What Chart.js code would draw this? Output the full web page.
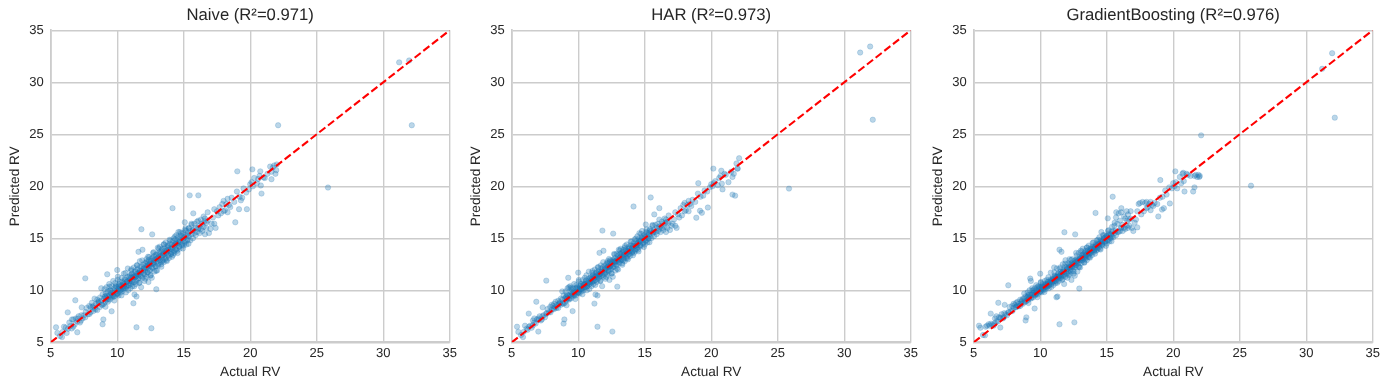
<!DOCTYPE html>
<html>
<head>
<meta charset="utf-8">
<title>Actual vs Predicted RV</title>
<script src="https://cdn.jsdelivr.net/npm/chart.js@4"></script>
<style>
  html, body { margin: 0; padding: 0; background: #fff; }
  body { position: relative; width: 1389px; height: 390px; overflow: hidden; }
  .painel { position: absolute; top: 0; width: 465px; height: 390px; }
</style>
</head>
<body>
<div class="painel" style="left:0px"><canvas id="chart0"></canvas></div>
<div class="painel" style="left:461.3px"><canvas id="chart1"></canvas></div>
<div class="painel" style="left:922.8px"><canvas id="chart2"></canvas></div>
<script>
var modelNames = ["Naive (R²=0.971)", "HAR (R²=0.973)", "GradientBoosting (R²=0.976)"];
var axisTicks = [5, 10, 15, 20, 25, 30, 35];
var identityLine = [5, 35];

// values, same row layout in all four lists
var actualRv = [
  5.40, 5.85, 6.28, 7.00, 6.85, 7.60, 7.33, 8.90, 8.96, 9.58,
  9.25, 10.0, 11.45, 12.57, 12.94, 11.22, 11.82, 12.63, 14.16, 15.45,
  16.10, 15.72, 15.08, 18.88, 19.16, 19.75, 20.85, 22.10, 25.85, 31.20,
  31.95, 32.15, 19.03, 20.16, 20.76, 21.96, 21.60, 20.80, 19.30, 21.00,
  5.5, 5.7, 5.9, 6.0, 6.2, 6.3, 6.4, 6.5, 6.6, 6.7,
  6.7, 6.8, 6.9, 7.0, 7.1, 7.2, 7.3, 7.4, 7.5, 7.6,
  7.7, 7.8, 7.9, 8.0, 8.0, 8.1, 8.2, 8.2, 8.3, 8.3,
  8.4, 8.5, 8.5, 8.6, 8.7, 8.7, 8.8, 8.8, 8.9, 8.9,
  9.0, 9.0, 9.05, 9.1, 9.1, 9.15, 9.2, 9.2, 9.25, 9.3,
  9.3, 9.35, 9.4, 9.4, 9.45, 9.5, 9.5, 9.55, 9.6, 9.6,
  9.65, 9.7, 9.7, 9.75, 9.8, 9.8, 9.85, 9.9, 9.9, 9.95,
  10.0, 10.0, 10.05, 10.1, 10.1, 10.15, 10.2, 10.2, 10.25, 10.3,
  10.3, 10.35, 10.4, 10.4, 10.45, 10.5, 10.5, 10.55, 10.6, 10.6,
  10.65, 10.7, 10.7, 10.8, 10.8, 10.85, 10.9, 10.9, 11.0, 11.0,
  11.05, 11.1, 11.1, 11.15, 11.2, 11.2, 11.25, 11.3, 11.3, 11.35,
  11.4, 11.4, 11.45, 11.5, 11.5, 11.55, 11.6, 11.6, 11.65, 11.7,
  11.7, 11.75, 11.8, 11.8, 11.85, 11.9, 11.9, 12.0, 12.0, 12.05,
  12.1, 12.1, 12.15, 12.2, 12.2, 12.25, 12.3, 12.3, 12.35, 12.4,
  12.4, 12.45, 12.5, 12.5, 12.55, 12.6, 12.6, 12.65, 12.7, 12.7,
  12.75, 12.8, 12.8, 12.9, 12.9, 12.95, 13.0, 13.0, 13.05, 13.1,
  13.1, 13.15, 13.2, 13.2, 13.25, 13.3, 13.3, 13.35, 13.4, 13.4,
  13.45, 13.5, 13.5, 13.55, 13.6, 13.6, 13.65, 13.7, 13.7, 13.8,
  13.8, 13.85, 13.9, 13.9, 14.0, 14.0, 14.05, 14.1, 14.1, 14.2,
  14.2, 14.25, 14.3, 14.3, 14.4, 14.4, 14.45, 14.5, 14.5, 14.6,
  14.6, 14.65, 14.7, 14.7, 14.8, 14.8, 14.9, 14.9, 15.0, 15.0,
  15.1, 15.1, 15.2, 15.2, 15.3, 15.3, 15.4, 15.4, 15.5, 15.5,
  15.6, 15.6, 15.7, 15.7, 15.8, 15.8, 15.9, 15.9, 16.0, 16.0,
  16.1, 16.1, 16.2, 16.2, 16.3, 16.3, 16.4, 16.4, 16.5, 16.5,
  16.55, 16.6, 16.6, 16.7, 16.7, 16.8, 16.8, 16.9, 17.0, 17.1,
  17.2, 17.3, 17.3, 17.4, 17.5, 17.6, 17.7, 17.8, 17.9, 18.0,
  18.0, 18.1, 18.2, 18.3, 18.3, 18.4, 18.5, 18.6, 18.8, 19.0,
  19.2, 19.4, 19.5, 19.7, 19.9, 20.0, 20.1, 20.2, 20.3, 20.5,
  20.6, 20.7, 21.1, 21.3, 21.5, 21.6, 21.7, 21.8, 21.9, 22.0,
  8.62, 9.08, 9.33, 9.47, 9.72, 9.88, 10.03, 10.13, 10.27, 10.38,
  10.48, 10.57, 10.68, 10.77, 10.88, 10.96, 11.03, 11.12, 11.27, 11.36,
  11.44, 11.52, 11.63, 11.73, 11.82, 11.96, 12.07, 12.18, 12.27, 12.38,
  12.47, 12.58, 12.66, 12.77, 12.86, 12.97, 13.08, 13.17, 13.27, 13.36,
  13.44, 13.57, 13.66, 13.78, 13.87, 13.96, 14.08, 14.17, 14.28, 14.37,
  14.47, 14.56, 14.68, 14.77, 14.86, 14.97, 15.07, 15.18, 15.27, 15.38,
  9.16, 9.62, 10.08, 10.44, 10.93, 11.33, 11.67, 12.03, 12.33, 12.72,
  13.03, 13.41, 13.72, 14.06, 14.33, 14.62, 15.03, 15.33, 15.67, 16.07,
  6.13, 6.58, 7.03, 7.27, 7.63, 7.92, 8.14, 8.37, 8.58, 8.83,
  9.12, 9.42, 9.78, 10.04, 10.32, 10.62, 10.84, 11.07, 11.28, 11.48,
  11.68, 11.88, 12.12, 12.32, 12.52, 12.74, 12.92, 13.12, 13.32, 13.52,
  13.74, 13.94, 14.12, 14.34, 14.54, 14.72, 14.94, 15.14, 15.36, 15.58,
  10.22, 10.52, 10.74, 10.99, 11.21, 11.39, 11.58, 11.78, 12.01, 12.23,
  12.43, 12.62, 12.83, 13.13, 13.46, 13.68, 13.83, 14.15, 14.42, 14.74
];

var naivePred = [
  6.44, 5.50, 7.88, 5.96, 9.04, 11.15, 8.36, 6.73, 7.20, 7.98,
  11.54, 11.95, 6.44, 6.35, 10.10, 8.75, 15.87, 15.38, 17.90, 19.13,
  19.13, 17.40, 16.54, 16.54, 17.80, 17.80, 19.30, 25.87, 19.88, 31.92,
  32.10, 25.87, 21.44, 21.63, 21.44, 21.55, 20.68, 20.08, 18.65, 20.85,
  5.9, 5.6, 6.0, 6.5, 5.9, 6.3, 6.9, 6.6, 7.2, 6.5,
  7.2, 6.7, 7.3, 7.0, 7.5, 6.9, 7.6, 7.3, 7.6, 7.4,
  8.3, 7.7, 8.5, 7.9, 8.4, 8.8, 8.0, 8.5, 9.2, 8.3,
  8.7, 8.1, 9.1, 8.8, 9.3, 8.4, 10.2, 9.0, 8.6, 9.6,
  9.2, 8.7, 10.1, 9.4, 8.9, 9.7, 10.3, 9.1, 9.5, 9.9,
  8.9, 9.4, 10.6, 9.5, 9.1, 10.0, 9.4, 9.7, 10.4, 9.3,
  9.9, 9.5, 10.9, 9.8, 10.2, 9.4, 10.7, 9.9, 10.4, 9.6,
  10.3, 9.7, 11.3, 10.1, 9.5, 10.4, 10.8, 10.0, 9.8, 10.5,
  10.1, 11.2, 10.5, 9.9, 10.7, 10.3, 11.6, 10.6, 10.2, 11.0,
  9.8, 10.8, 10.4, 12.1, 10.9, 10.5, 11.3, 10.7, 10.2, 11.2,
  11.9, 10.9, 11.5, 10.4, 11.3, 10.8, 12.2, 9.6, 11.4, 11.8,
  10.6, 11.3, 9.4, 11.6, 12.4, 11.1, 13.7, 11.5, 10.7, 11.9,
  12.8, 11.4, 10.3, 11.9, 12.3, 11.2, 13.9, 12.1, 11.6, 10.9,
  12.6, 11.8, 12.2, 13.0, 11.3, 12.4, 11.7, 12.7, 10.8, 12.3,
  13.2, 11.9, 12.6, 11.4, 12.8, 12.2, 11.2, 13.1, 12.5, 13.6,
  12.9, 11.8, 12.7, 13.4, 12.3, 13.0, 11.9, 12.8, 14.1, 13.2,
  12.4, 13.5, 12.9, 14.2, 13.3, 12.5, 13.7, 13.2, 12.8, 14.0,
  13.4, 12.7, 14.4, 13.5, 13.0, 13.8, 14.6, 13.6, 12.9, 14.1,
  13.4, 14.3, 13.8, 13.1, 14.0, 14.8, 13.5, 14.4, 13.7, 14.2,
  13.4, 15.0, 14.3, 13.6, 14.6, 13.9, 15.3, 14.5, 13.8, 14.7,
  15.6, 14.2, 14.8, 14.0, 15.0, 15.5, 14.5, 15.2, 15.0, 14.3,
  15.8, 14.7, 15.3, 14.4, 15.5, 14.9, 16.0, 15.2, 15.7, 14.8,
  16.3, 15.4, 15.8, 15.0, 16.4, 15.5, 16.0, 15.3, 16.6, 15.6,
  15.9, 16.7, 16.2, 15.5, 16.8, 15.9, 16.4, 15.7, 17.1, 16.1,
  16.6, 15.4, 16.9, 16.0, 16.5, 17.5, 16.7, 15.5, 15.9, 16.4,
  17.0, 17.8, 16.4, 16.0, 17.6, 17.2, 18.0, 17.4, 18.3, 17.6,
  18.6, 17.7, 18.3, 18.8, 17.5, 18.2, 18.0, 18.9, 18.5, 19.5,
  19.0, 18.9, 19.8, 19.4, 19.7, 20.2, 20.4, 20.0, 20.8, 20.3,
  20.7, 21.0, 20.8, 21.2, 21.9, 21.4, 21.8, 22.0, 21.2, 22.1,
  8.95, 9.42, 9.13, 9.98, 9.41, 10.36, 9.66, 10.58, 10.02, 10.85,
  10.16, 11.07, 10.31, 11.28, 10.47, 11.44, 10.63, 11.62, 10.78, 11.85,
  10.92, 12.03, 11.16, 12.26, 11.35, 12.47, 11.52, 12.73, 11.74, 12.92,
  11.96, 13.07, 12.14, 13.29, 12.33, 13.47, 12.54, 13.68, 12.72, 13.88,
  12.93, 14.08, 13.12, 14.31, 13.33, 14.49, 13.52, 14.69, 13.77, 14.91,
  13.96, 15.07, 14.18, 15.28, 14.35, 15.51, 14.56, 15.72, 14.78, 15.94,
  9.23, 9.55, 10.17, 10.36, 11.01, 11.26, 11.74, 11.95, 12.41, 12.64,
  13.11, 13.34, 13.79, 13.98, 14.41, 14.55, 15.11, 15.26, 15.75, 15.99,
  6.42, 6.33, 7.28, 7.08, 7.91, 7.72, 8.39, 8.16, 8.83, 8.61,
  8.42, 10.36, 9.02, 11.02, 9.51, 11.66, 10.02, 12.03, 10.38, 12.41,
  10.74, 12.88, 11.12, 13.23, 11.46, 13.67, 11.88, 14.03, 12.27, 14.43,
  12.81, 14.86, 13.22, 15.17, 13.58, 15.61, 14.02, 15.98, 14.47, 16.41,
  10.31, 10.43, 10.82, 10.91, 11.29, 11.31, 11.66, 11.71, 12.09, 12.16,
  12.51, 12.55, 12.91, 13.05, 13.54, 13.61, 13.91, 14.08, 14.50, 14.67
];

var harPred = [
  6.50, 5.50, 7.76, 6.03, 8.90, 10.93, 8.36, 6.80, 7.20, 8.00,
  11.20, 11.70, 6.50, 6.03, 10.35, 8.72, 15.74, 15.45, 18.06, 18.93,
  17.90, 17.30, 16.33, 16.98, 17.65, 17.96, 19.70, 22.70, 19.78, 32.86,
  33.44, 26.40, 20.30, 21.70, 21.50, 21.70, 20.90, 20.25, 17.45, 21.20,
  6.0, 5.7, 6.0, 6.6, 6.2, 6.5, 6.6, 6.4, 7.1, 6.9,
  7.3, 6.8, 7.2, 7.3, 7.5, 7.1, 7.5, 7.6, 7.4, 7.8,
  8.2, 7.9, 8.4, 8.1, 8.6, 8.5, 8.2, 8.7, 8.9, 8.4,
  8.6, 8.3, 9.0, 8.7, 9.2, 8.6, 9.9, 9.1, 8.7, 9.5,
  9.2, 8.8, 9.9, 9.4, 9.0, 9.6, 10.2, 9.2, 9.5, 10.3,
  9.1, 9.5, 10.4, 9.6, 9.2, 10.1, 9.5, 9.7, 10.2, 9.4,
  9.9, 9.6, 10.6, 9.8, 10.2, 9.5, 10.5, 9.9, 10.3, 9.7,
  10.2, 9.8, 11.0, 10.1, 9.7, 10.4, 10.6, 10.1, 9.9, 10.4,
  10.2, 11.0, 10.5, 10.0, 10.6, 10.3, 11.2, 10.6, 10.3, 10.9,
  10.0, 10.7, 10.4, 11.8, 10.9, 10.6, 11.2, 10.8, 10.4, 11.1,
  11.7, 10.9, 11.4, 10.6, 11.3, 10.9, 12.0, 9.6, 11.3, 11.7,
  10.8, 11.3, 9.5, 11.6, 12.2, 11.2, 13.6, 11.5, 10.9, 11.8,
  12.4, 11.4, 10.4, 11.8, 12.2, 11.3, 13.8, 12.0, 11.6, 11.1,
  12.5, 11.8, 12.2, 12.8, 11.5, 12.3, 11.8, 12.6, 11.0, 12.3,
  12.9, 12.0, 12.5, 11.6, 12.7, 12.2, 11.3, 12.9, 12.5, 13.5,
  12.8, 11.9, 12.7, 13.5, 12.4, 13.0, 12.0, 12.9, 13.9, 13.1,
  12.6, 13.5, 12.9, 14.0, 13.3, 12.6, 13.6, 13.2, 12.9, 13.9,
  13.4, 12.8, 14.1, 13.5, 13.1, 13.8, 14.4, 13.6, 13.1, 14.0,
  13.5, 14.1, 13.8, 13.3, 14.0, 14.7, 13.6, 14.3, 13.8, 14.2,
  13.6, 14.9, 14.3, 13.8, 14.5, 14.0, 15.2, 14.5, 13.9, 14.7,
  15.5, 14.3, 14.8, 14.2, 15.0, 15.7, 14.6, 15.2, 15.1, 14.4,
  15.6, 14.8, 15.3, 14.6, 15.5, 15.0, 15.9, 15.2, 15.7, 15.0,
  16.2, 15.5, 15.8, 15.2, 16.3, 15.6, 16.0, 15.4, 16.4, 15.7,
  15.9, 16.8, 16.2, 15.6, 16.6, 16.0, 16.4, 15.8, 16.9, 16.1,
  16.5, 15.6, 16.8, 16.0, 16.6, 17.2, 16.5, 15.8, 16.2, 16.4,
  16.8, 17.5, 16.2, 16.0, 17.3, 17.0, 17.9, 17.2, 18.2, 17.6,
  18.4, 17.7, 18.2, 18.6, 17.6, 18.3, 18.1, 18.7, 18.5, 19.3,
  19.0, 19.1, 19.6, 19.5, 19.9, 20.2, 20.0, 20.3, 20.5, 20.1,
  20.8, 21.0, 21.1, 20.4, 21.4, 19.2, 21.2, 19.1, 22.2, 21.7,
  8.85, 9.33, 9.21, 9.83, 9.52, 10.17, 9.81, 10.42, 10.09, 10.66,
  10.28, 10.94, 10.42, 11.12, 10.63, 11.28, 10.77, 11.47, 10.96, 11.69,
  11.07, 11.88, 11.32, 12.09, 11.48, 12.33, 11.68, 12.62, 11.92, 12.76,
  12.11, 12.93, 12.27, 13.11, 12.49, 13.32, 12.72, 13.53, 12.93, 13.71,
  13.08, 13.93, 13.28, 14.16, 13.49, 14.33, 13.71, 14.52, 13.92, 14.73,
  14.11, 14.92, 14.33, 15.13, 14.52, 15.33, 14.72, 15.54, 14.96, 15.76,
  9.21, 9.66, 10.02, 10.49, 10.88, 11.38, 11.61, 12.09, 12.27, 12.78,
  12.97, 13.46, 13.66, 14.13, 14.27, 14.67, 14.96, 15.38, 15.61, 16.12,
  6.31, 6.62, 7.16, 7.21, 7.74, 7.88, 8.27, 8.31, 8.71, 8.74,
  8.56, 10.22, 9.16, 10.86, 9.62, 11.44, 10.13, 11.86, 10.51, 12.23,
  10.92, 12.71, 11.28, 13.02, 11.63, 13.44, 12.07, 13.82, 12.46, 14.26,
  12.98, 14.68, 13.36, 14.98, 13.74, 15.44, 14.16, 15.86, 14.62, 16.28,
  10.17, 10.58, 10.69, 11.05, 11.16, 11.44, 11.53, 11.84, 11.96, 12.28,
  12.38, 12.67, 12.78, 13.18, 13.41, 13.73, 13.78, 14.20, 14.37, 14.79
];

var gbPred = [
  6.60, 5.67, 7.76, 6.42, 8.80, 10.48, 8.60, 7.10, 7.40, 8.25,
  11.13, 11.60, 6.73, 6.92, 10.17, 9.33, 15.58, 15.38, 17.44, 19.00,
  17.90, 17.50, 16.92, 17.10, 17.76, 18.35, 19.50, 24.90, 20.06, 31.30,
  32.80, 26.60, 20.60, 21.44, 21.30, 20.90, 21.00, 20.50, 17.90, 21.20,
  6.4, 5.7, 6.5, 6.6, 6.6, 6.8, 6.7, 6.6, 7.3, 7.0,
  7.5, 7.0, 7.4, 7.4, 7.7, 7.3, 7.8, 7.7, 7.6, 7.9,
  8.4, 8.0, 8.5, 8.3, 8.7, 8.6, 8.4, 8.8, 8.9, 8.5,
  8.7, 8.5, 9.1, 8.9, 9.2, 8.7, 9.7, 9.2, 8.9, 9.4,
  9.3, 9.0, 9.8, 9.5, 9.1, 9.6, 10.0, 9.3, 9.6, 10.9,
  9.2, 9.6, 10.2, 9.6, 9.3, 10.0, 9.6, 9.8, 10.2, 9.5,
  10.0, 9.7, 10.5, 9.9, 10.3, 9.6, 10.4, 10.0, 10.3, 9.8,
  10.3, 9.9, 10.8, 10.2, 9.8, 10.4, 10.6, 10.1, 10.0, 10.4,
  10.3, 10.9, 10.5, 10.1, 10.6, 10.3, 11.0, 10.6, 10.4, 10.8,
  10.2, 10.7, 10.5, 11.7, 10.9, 10.6, 11.1, 10.8, 10.5, 11.1,
  12.2, 10.9, 11.4, 10.7, 11.3, 10.9, 12.1, 9.4, 11.3, 11.6,
  10.9, 11.3, 13.9, 11.5, 12.2, 11.2, 13.7, 11.4, 11.0, 11.8,
  12.5, 11.4, 10.6, 11.8, 12.3, 11.3, 12.9, 12.0, 11.6, 11.2,
  12.6, 11.8, 12.2, 13.0, 11.5, 12.3, 11.8, 12.5, 11.0, 12.3,
  13.0, 11.9, 12.5, 11.6, 12.6, 12.2, 11.4, 12.9, 12.4, 13.6,
  12.8, 11.8, 12.7, 13.6, 12.3, 13.0, 12.2, 12.9, 13.8, 13.1,
  12.6, 13.4, 12.9, 14.0, 13.3, 12.7, 13.5, 13.2, 13.0, 13.8,
  13.4, 12.9, 14.1, 13.5, 13.2, 13.8, 14.3, 13.6, 13.2, 14.0,
  13.6, 14.0, 13.8, 13.4, 14.1, 14.6, 13.7, 14.2, 13.9, 14.3,
  13.8, 14.8, 14.3, 13.9, 14.5, 14.1, 15.1, 14.5, 14.0, 14.7,
  15.6, 14.4, 14.8, 14.3, 15.0, 15.3, 14.7, 15.1, 15.2, 14.5,
  15.7, 14.8, 15.3, 14.7, 15.4, 15.0, 16.1, 15.2, 15.7, 15.1,
  16.5, 15.5, 17.0, 15.3, 16.4, 15.6, 17.4, 15.6, 16.7, 15.7,
  16.0, 17.5, 16.3, 15.7, 17.1, 16.0, 16.9, 15.9, 17.6, 16.2,
  16.7, 16.0, 17.3, 16.2, 16.8, 17.6, 16.9, 16.0, 15.7, 16.5,
  16.8, 17.6, 16.05, 18.3, 18.4, 17.3, 18.5, 17.6, 18.4, 17.9,
  18.5, 18.0, 18.3, 18.5, 17.7, 18.2, 18.1, 18.4, 18.3, 18.9,
  19.0, 19.6, 19.2, 19.9, 19.8, 20.3, 20.0, 20.4, 19.8, 20.9,
  20.3, 21.2, 21.1, 21.0, 19.5, 19.9, 21.1, 20.9, 21.1, 21.0,
  9.02, 9.36, 9.28, 9.74, 9.66, 10.11, 9.92, 10.35, 10.19, 10.58,
  10.36, 10.84, 10.54, 11.03, 10.72, 11.19, 10.86, 11.35, 11.08, 11.58,
  11.16, 11.76, 11.41, 11.98, 11.56, 12.22, 11.77, 12.48, 12.01, 12.63,
  12.22, 12.84, 12.41, 13.02, 12.61, 13.21, 12.85, 13.41, 13.04, 13.62,
  13.21, 13.83, 13.42, 14.05, 13.62, 14.21, 13.86, 14.41, 14.06, 14.62,
  14.26, 14.83, 14.46, 15.02, 14.66, 15.24, 14.84, 15.45, 15.06, 15.66,
  9.26, 9.58, 10.14, 10.41, 10.98, 11.29, 11.73, 12.06, 12.29, 12.76,
  13.08, 13.37, 13.76, 14.02, 14.37, 14.58, 15.07, 15.29, 15.72, 16.03,
  6.74, 6.81, 7.31, 7.42, 7.88, 8.02, 8.36, 8.45, 8.73, 8.91,
  8.78, 10.02, 9.34, 10.72, 9.84, 11.26, 10.32, 11.71, 10.72, 12.06,
  11.08, 12.56, 11.46, 12.91, 11.83, 13.36, 12.22, 13.74, 12.66, 14.12,
  13.14, 14.56, 13.52, 14.86, 13.92, 15.31, 14.27, 15.78, 14.71, 16.22,
  10.29, 10.48, 10.79, 10.94, 11.26, 11.35, 11.62, 11.74, 12.05, 12.19,
  12.47, 12.59, 12.87, 13.09, 13.50, 13.64, 13.87, 14.11, 14.46, 14.70
];

var modelPreds = [naivePred, harPred, gbPred];
var textColor = "#262626";
var gridColor = "#cccccc";

// centra o titulo sobre a area do grafico e desliga o hinting do texto
var ajustesPainel = {
  id: "ajustesPainel",
  afterLayout: function (chart) {
    chart.titleBlock.left = chart.chartArea.left;
    chart.titleBlock.right = chart.chartArea.right;
  },
  beforeDraw: function (chart) {
    chart.ctx.textRendering = "geometricPrecision";
  },
};

function desenharPainel(indice) {
  var pontos = actualRv.map(function (x, i) {
    return { x: x, y: modelPreds[indice][i] };
  });
  var linha = identityLine.map(function (v) {
    return { x: v, y: v };
  });

  new Chart(document.getElementById("chart" + indice), {
    type: "scatter",
    plugins: [ajustesPainel],
    data: {
      datasets: [
        {
          data: linha,
          showLine: true,
          borderColor: "#ff0000",
          borderWidth: 2.1,
          borderDash: [7.7, 3.3],
          pointRadius: 0,
        },
        {
          data: pontos,
          backgroundColor: "rgba(31,119,180,0.3)",
          borderColor: "rgba(31,119,180,0.26)",
          borderWidth: 0.8,
          pointRadius: 2.7,
        },
      ],
    },
    options: {
      responsive: true,
      maintainAspectRatio: false,
      animation: false,
      layout: { padding: { right: 15.3 } },
      plugins: {
        legend: { display: false },
        tooltip: { enabled: false },
        title: {
          display: true,
          text: modelNames[indice],
          color: textColor,
          font: { family: "Liberation Sans", size: 16.67, weight: "normal", lineHeight: 1.2 },
          padding: { top: 5, bottom: 5.3 },
        },
      },
      scales: {
        x: {
          type: "linear",
          min: 5,
          max: 35,
          afterBuildTicks: function (axis) {
            axis.ticks = axisTicks.map(function (v) { return { value: v }; });
          },
          afterFit: function (axis) { axis.height = 47.7; },
          grid: { color: gridColor, lineWidth: 1.4, drawTicks: false },
          border: { color: gridColor, width: 1.7 },
          ticks: {
            color: textColor,
            font: { family: "Liberation Sans", size: 13 },
            padding: 3,
            maxRotation: 0,
          },
          title: {
            display: true,
            text: "Actual RV",
            color: textColor,
            font: { family: "Liberation Sans", size: 13.6, lineHeight: 1.2 },
            padding: { top: 0, bottom: 9.5 },
          },
        },
        y: {
          type: "linear",
          min: 5,
          max: 35,
          afterBuildTicks: function (axis) {
            axis.ticks = axisTicks.map(function (v) { return { value: v }; });
          },
          afterFit: function (axis) { axis.width = 50.7; },
          grid: { color: gridColor, lineWidth: 1.4, drawTicks: false },
          border: { color: gridColor, width: 1.7 },
          ticks: {
            color: textColor,
            font: { family: "Liberation Sans", size: 13 },
            padding: 7,
          },
          title: {
            display: true,
            text: "Predicted RV",
            color: textColor,
            font: { family: "Liberation Sans", size: 13.6, lineHeight: 1.2 },
            padding: { top: 6.7, bottom: 0 },
          },
        },
      },
    },
  });
}

document.addEventListener("DOMContentLoaded", function () {
  if (typeof Chart === "undefined") {
    console.error("Chart.js nao carregou");
    return;
  }
  modelNames.forEach(function (nome, i) {
    desenharPainel(i);
  });
});
</script>
</body>
</html>
